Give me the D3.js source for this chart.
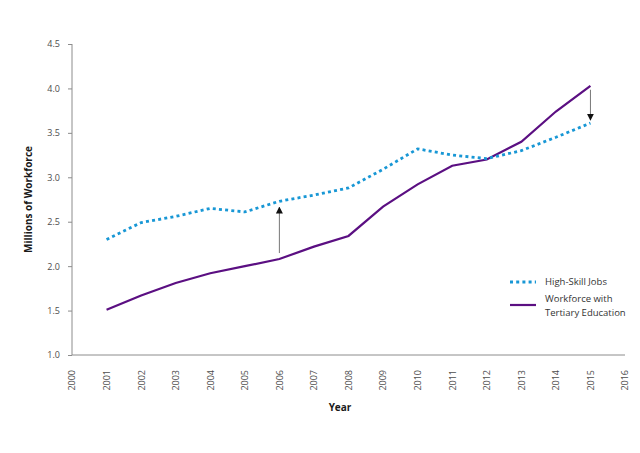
<!DOCTYPE html>
<html>
<head>
<meta charset="utf-8">
<script src="https://cdn.jsdelivr.net/npm/d3@7"></script>
<style>
  body { margin: 0; background: #fff; }
  .axis path, .axis line { fill: none; stroke: #8c8c8c; }
  .axis text { fill: #4d4d4d; font-family: "Open Sans", sans-serif; font-size: 9px; }
  .title { font-family: "Open Sans", sans-serif; font-size: 10px; font-weight: bold; fill: #1a1a1a; }
  .legend { font-family: "Open Sans", sans-serif; font-size: 9.5px; fill: #333; }
</style>
</head>
<body>
<script>
  // years and values (millions)
  let years = [2001, 2002, 2003, 2004, 2005, 2006, 2007, 2008, 2009, 2010, 2011, 2012, 2013, 2014, 2015];
  let highSkillJobs = [2.30, 2.49, 2.56, 2.65, 2.61, 2.73, 2.80, 2.88, 3.09, 3.32, 3.25, 3.21, 3.30, 3.45, 3.61];
  let tertiaryWorkforce = [1.51, 1.67, 1.81, 1.92, 2.00, 2.08, 2.22, 2.34, 2.67, 2.92, 3.13, 3.20, 3.40, 3.74, 4.03];
  let xTicks = d3.range(2000, 2017);
  let yTicks = [1.0, 1.5, 2.0, 2.5, 3.0, 3.5, 4.0, 4.5];
  // gap arrows: year, from-series value, to-series value
  let arrows = [
    {year: 2006, from: 2.08, to: 2.73},
    {year: 2015, from: 4.03, to: 3.61}
  ];

  let margin = {top: 44, right: 15, bottom: 98, left: 72};
  let width = 640 - margin.left - margin.right;
  let height = 453 - margin.top - margin.bottom;

  let scaleX = d3.scaleLinear().domain([2000, 2016]).range([0, width]);
  let scaleY = d3.scaleLinear().domain([1.0, 4.5]).range([height, 0]);

  let svg = d3.select('body').append('svg')
    .attr('width', 640)
    .attr('height', 453);

  svg.append('defs').append('marker')
    .attr('id', 'head')
    .attr('viewBox', '0 0 10 10')
    .attr('refX', 9).attr('refY', 5)
    .attr('markerWidth', 7).attr('markerHeight', 7)
    .attr('markerUnits', 'userSpaceOnUse')
    .attr('orient', 'auto')
    .append('path')
    .attr('d', 'M0,0L10,5L0,10Z')
    .attr('fill', '#111');

  let g = svg.append('g')
    .attr('transform', 'translate(' + margin.left + ',' + margin.top + ')');

  // y axis
  let yAxis = d3.axisLeft(scaleY)
    .tickValues(yTicks)
    .tickFormat(d3.format('.1f'))
    .tickSize(4)
    .tickPadding(8);
  let yg = g.append('g').attr('class', 'axis').call(yAxis);
  yg.select('.domain').attr('d', 'M0,0V' + height);

  // x axis, no tick marks, rotated labels
  let xAxis = d3.axisBottom(scaleX)
    .tickValues(xTicks)
    .tickFormat(d3.format('d'))
    .tickSize(0);
  let xg = g.append('g').attr('class', 'axis')
    .attr('transform', 'translate(0,' + height + ')')
    .call(xAxis);
  xg.select('.domain').attr('d', 'M0,0H' + width);
  xg.selectAll('text')
    .attr('transform', 'rotate(-90)')
    .attr('x', -15)
    .attr('y', 0)
    .attr('dy', '0.32em')
    .style('text-anchor', 'end');

  // axis titles
  svg.append('text')
    .attr('class', 'title')
    .attr('transform', 'translate(32,' + (margin.top + height / 2) + ') rotate(-90)')
    .attr('text-anchor', 'middle')
    .text('Millions of Workforce');
  svg.append('text')
    .attr('class', 'title')
    .attr('x', 340).attr('y', 411)
    .attr('text-anchor', 'middle')
    .text('Year');

  let line = d3.line()
    .x(function(d) { return scaleX(d.year); })
    .y(function(d) { return scaleY(d.value); });

  let tertiaryData = years.map(function(y, i) { return {year: y, value: tertiaryWorkforce[i]}; });
  let jobsData = years.map(function(y, i) { return {year: y, value: highSkillJobs[i]}; });

  g.append('path')
    .datum(tertiaryData)
    .attr('fill', 'none')
    .attr('stroke', '#5b0f82')
    .attr('stroke-width', 2.2)
    .attr('d', line);

  g.append('path')
    .datum(jobsData)
    .attr('fill', 'none')
    .attr('stroke', '#1897d5')
    .attr('stroke-width', 2.8)
    .attr('stroke-dasharray', '3,3.2')
    .attr('d', line);

  // arrows showing the gap
  g.selectAll('.gap')
    .data(arrows)
    .enter().append('line')
    .attr('class', 'gap')
    .attr('x1', function(d) { return scaleX(d.year); })
    .attr('x2', function(d) { return scaleX(d.year); })
    .attr('y1', function(d) { return scaleY(d.from) + (d.to > d.from ? -6 : 4); })
    .attr('y2', function(d) { return scaleY(d.to) + (d.to > d.from ? 6 : -3); })
    .attr('stroke', '#777')
    .attr('stroke-width', 1)
    .attr('marker-end', 'url(#head)');

  // legend
  let legend = svg.append('g').attr('transform', 'translate(510,282)');
  legend.append('line')
    .attr('x1', 0).attr('x2', 26).attr('y1', 0).attr('y2', 0)
    .attr('stroke', '#1897d5').attr('stroke-width', 2.8)
    .attr('stroke-dasharray', '3,3.2');
  legend.append('text').attr('class', 'legend')
    .attr('x', 35).attr('y', 0).attr('dy', '0.35em')
    .text('High-Skill Jobs');
  legend.append('line')
    .attr('x1', 0).attr('x2', 26).attr('y1', 23).attr('y2', 23)
    .attr('stroke', '#5b0f82').attr('stroke-width', 2.2);
  legend.append('text').attr('class', 'legend')
    .attr('x', 35).attr('y', 17).attr('dy', '0.35em')
    .text('Workforce with');
  legend.append('text').attr('class', 'legend')
    .attr('x', 35).attr('y', 30.5).attr('dy', '0.35em')
    .text('Tertiary Education');
</script>
</body>
</html>
